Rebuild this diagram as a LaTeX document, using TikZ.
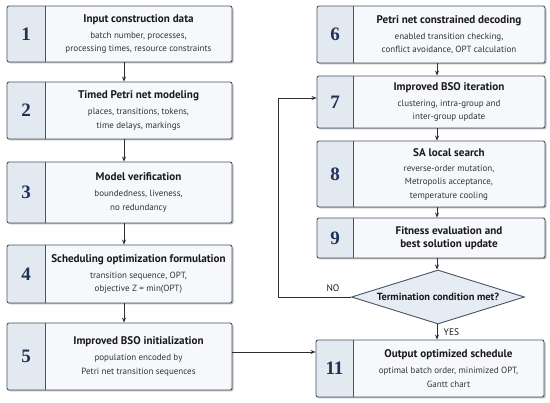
\documentclass[tikz,border=0pt]{standalone}
\usepackage{fontspec}
\setsansfont{PT Sans}
\newfontfamily\numfont{Liberation Serif}
\usetikzlibrary{shapes.geometric,arrows.meta,calc}
\definecolor{boxfill}{HTML}{F6F8FB}
\definecolor{numfill}{HTML}{E3E9F1}
\definecolor{bordc}{HTML}{4A5463}
\definecolor{numc}{HTML}{1E3356}
\definecolor{titc}{HTML}{1A1A1A}
\definecolor{subc}{HTML}{333333}
\definecolor{decfill}{HTML}{E5ECF4}
\definecolor{arrc}{HTML}{2E2E2E}
\newcommand\ttl[1]{{\fontsize{11.1}{13}\selectfont\bfseries\color{titc}#1}}
\newcommand\flowbox[8]{%
  \fill[black!25,rounded corners=2pt] (#2+1.5,#3+1.5) rectangle (#4+1.5,#5+1.5);
  \fill[boxfill,rounded corners=2pt] (#2,#3) rectangle (#4,#5);
  \begin{scope}
    \clip[rounded corners=2pt] (#2,#3) rectangle (#4,#5);
    \fill[numfill] (#2,#3) rectangle (#6,#5);
  \end{scope}
  \draw[bordc,line width=0.6pt] (#6,#3) -- (#6,#5);
  \node[boxst,minimum width={(#4-#2)*1pt},minimum height={(#5-#3)*1pt}] (#1) at ({(#2+#4)/2},{(#3+#5)/2}) {};
  \node[numst] at ({(#2+#6)/2},{(#3+#5)/2}) {#7};
  \node[txtst] at ({(#6+#4)/2},{(#3+#5)/2}) {#8};
}
\tikzset{
  boxst/.style={draw=bordc,line width=0.9pt,rounded corners=2pt,inner sep=0pt},
  numst/.style={font=\numfont\bfseries\fontsize{19}{20}\selectfont,text=numc},
  txtst/.style={align=center,font=\sffamily\fontsize{9}{13.5}\selectfont,text=subc,inner sep=0pt},
  arr/.style={-{Stealth[length=5pt,width=4pt]},draw=arrc,line width=0.8pt},
  decst/.style={diamond,draw=bordc,fill=decfill,line width=0.9pt,minimum width=173pt,minimum height=54pt,aspect=3.2,inner sep=0pt,font=\sffamily\bfseries\fontsize{10.4}{12}\selectfont,text=titc},
  lblst/.style={font=\sffamily\fontsize{9.5}{10}\selectfont,text=titc}
}
\begin{document}
\begin{tikzpicture}[x=1pt,y=-1pt]
\useasboundingbox (0,0) rectangle (550,403);
\fill[white] (0,0) rectangle (550,403);
\flowbox{b1}{7}{6}{232}{62}{45}{1}{\ttl{Input construction data}\\[2.5pt]batch number, processes,\\processing times, resource constraints}
\flowbox{b2}{7}{82}{232}{139}{45}{2}{\ttl{Timed Petri net modeling}\\[2.5pt]places, transitions, tokens,\\time delays, markings}
\flowbox{b3}{7}{162}{232}{223}{45}{3}{\ttl{Model verification}\\[2.5pt]boundedness, liveness,\\no redundancy}
\flowbox{b4}{7}{245}{232}{303}{45}{4}{\ttl{Scheduling optimization formulation}\\[2.5pt]transition sequence, OPT,\\objective Z = min(OPT)}
\flowbox{b5}{7}{323}{232}{390}{45}{5}{\ttl{Improved BSO initialization}\\[2.5pt]population encoded by\\Petri net transition sequences}
\flowbox{b6}{317}{6}{545}{63}{353}{6}{\ttl{Petri net constrained decoding}\\[2.5pt]enabled transition checking,\\conflict avoidance, OPT calculation}
\flowbox{b7}{317}{76}{545}{128}{353}{7}{\ttl{Improved BSO iteration}\\[2.5pt]clustering, intra-group and\\inter-group update}
\flowbox{b8}{317}{141}{545}{207}{353}{8}{\ttl{SA local search}\\[1.5pt]reverse-order mutation,\\Metropolis acceptance,\\temperature cooling}
\flowbox{b9}{317}{218}{545}{258}{353}{9}{\ttl{Fitness evaluation and}\\\ttl{best solution update}}
\flowbox{b11}{316}{340}{544}{397}{353}{11}{\ttl{Output optimized schedule}\\[2.5pt]optimal batch order, minimized OPT,\\Gantt chart}
\node[decst] (dec) at (438,297) {Termination condition met?};
\coordinate (lx) at (124,0);
\coordinate (rx) at (437,0);
\coordinate (my) at (0,352);
\coordinate (lp) at (278,98);
\draw[arr] (b1.south -| lx) -- (b2.north -| lx);
\draw[arr] (b2.south -| lx) -- (b3.north -| lx);
\draw[arr] (b3.south -| lx) -- (b4.north -| lx);
\draw[arr] (b4.south -| lx) -- (b5.north -| lx);
\draw[arr] (b6.south -| rx) -- (b7.north -| rx);
\draw[arr] (b7.south -| rx) -- (b8.north -| rx);
\draw[arr] (b8.south -| rx) -- (b9.north -| rx);
\draw[arr] (b9.south -| rx) -- (dec.north -| rx);
\draw[arr] (dec.south -| rx) -- (b11.north -| rx) node[lblst,midway,right=3pt] {YES};
\draw[arr] (b5.east |- my) -- (b11.west |- my);
\draw[arr] (dec.west) -| (lp) -- (lp -| b7.west);
\node[lblst] (no) at (333,288) {NO};
\end{tikzpicture}
\end{document}
